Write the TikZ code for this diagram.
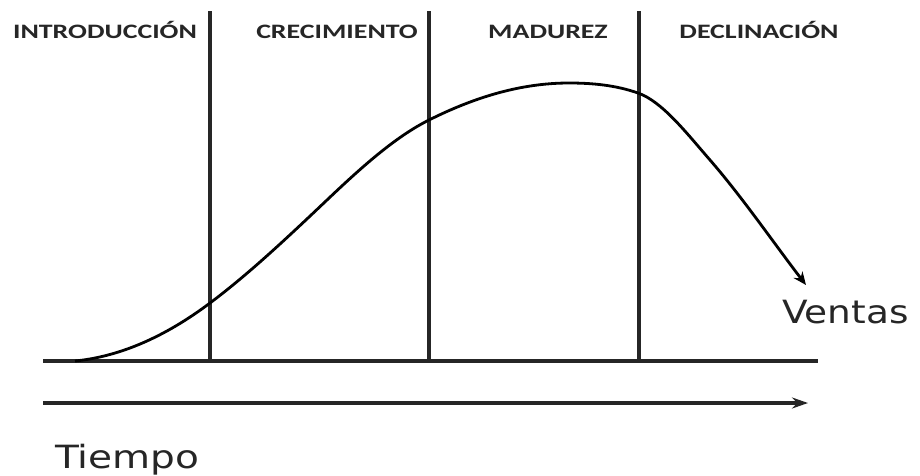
\documentclass[tikz,border=0pt]{standalone}
\usepackage{fontspec}
\usepackage{graphicx}
\setmainfont{Carlito}
\newfontfamily\labelfont{DejaVu Sans}
\usetikzlibrary{arrows.meta}
\tikzset{
  phase/.style={font=\fontsize{20.5}{22}\selectfont\bfseries, text=black!85, inner sep=0pt, anchor=base},
  axislabel/.style={font=\labelfont\fontsize{32}{36}\selectfont, text=black!85, inner sep=0pt, anchor=base west},
  divider/.style={line width=3.2pt, black!85},
  axisline/.style={line width=3.2pt, black!85},
  salescurve/.style={line width=2.8pt, black, -{Stealth[length=13pt,width=11pt]}},
}
\begin{document}
\begin{tikzpicture}[x=1pt,y=-1pt]
\useasboundingbox (0,0) rectangle (920,475);
\fill[white] (0,0) rectangle (920,475);
% phase labels
\node[phase] (intro) at (105,38) {\scalebox{1.36}[1]{INTRODUCCIÓN}};
\node[phase] (crec) at (337,38) {\scalebox{1.36}[1]{CRECIMIENTO}};
\node[phase] (mad) at (548,38) {\scalebox{1.36}[1]{MADUREZ}};
\node[phase] (decl) at (759,38) {\scalebox{1.36}[1]{DECLINACIÓN}};
% axis coordinates
\coordinate (b0) at (43,361);
\coordinate (b1) at (818,361);
\coordinate (t0) at (43,403);
\coordinate (t1) at (808,403);
% dividers
\coordinate (v1t) at (210,11);
\coordinate (v1b) at (210,361);
\coordinate (v2t) at (429,11);
\coordinate (v2b) at (429,361);
\coordinate (v3t) at (639,11);
\coordinate (v3b) at (639,361);
\draw[divider] (v1t) -- (v1b);
\draw[divider] (v2t) -- (v2b);
\draw[divider] (v3t) -- (v3b);
\draw[axisline] (b0) -- (b1);
\draw[axisline, -{Stealth[length=16pt,width=11pt]}] (t0) -- (t1);
% sales curve
\coordinate (p0) at (75,361);
\coordinate (p1) at (210,303);
\coordinate (p2) at (327,200);
\coordinate (p3) at (429,120);
\coordinate (p4) at (569,83);
\coordinate (p5) at (638,93);
\coordinate (p6) at (710,160);
\coordinate (p7) at (806,285);
\draw[salescurve] (p0)
  .. controls (120,356.5) and (165,336.8) .. (p1)
  .. controls (249,273.8) and (288,237) .. (p2)
  .. controls (361,167.7) and (395,137) .. (p3)
  .. controls (476,96.5) and (522,83) .. (p4)
  .. controls (592,83) and (615,85) .. (p5)
  .. controls (662,101.4) and (686,132.4) .. (p6)
  .. controls (742,196.8) and (774,243.4) .. (p7);
% axis labels
\node[axislabel] (ventas) at (782,323) {\scalebox{1.17}[1]{Ventas}};
\node[axislabel] (tiempo) at (55,468) {\scalebox{1.22}[1]{Tiempo}};
\end{tikzpicture}
\end{document}
